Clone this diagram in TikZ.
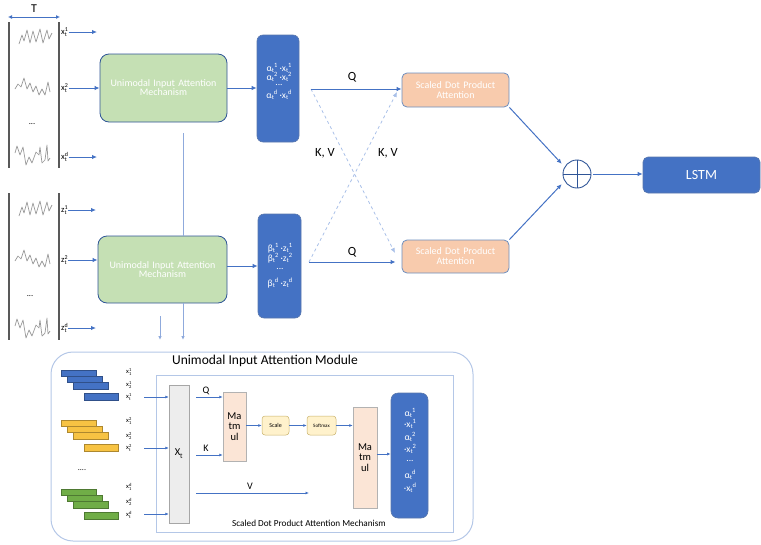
\documentclass[tikz,border=0pt]{standalone}
\usepackage{fontspec}
\usepackage{amsmath}
\setmainfont{Carlito}
\usetikzlibrary{arrows.meta}
\definecolor{myblue}{HTML}{4472C4}
\definecolor{darkblue}{HTML}{2F5597}
\definecolor{greenfill}{HTML}{C5E0B4}
\definecolor{orangefill}{HTML}{F8CBAD}
\definecolor{sdpborder}{HTML}{6C8EBF}
\definecolor{lightline}{HTML}{8FAADC}
\definecolor{dashblue}{HTML}{A9C0E8}
\definecolor{matfill}{HTML}{FBE5D6}
\definecolor{scalefill}{HTML}{FFF2CC}
\definecolor{scaleborder}{HTML}{C9B26B}
\definecolor{modborder}{HTML}{B4C7E7}
\definecolor{barblue}{HTML}{4472C4}
\definecolor{baryellow}{HTML}{F7C343}
\definecolor{bargreen}{HTML}{70AD47}
\newcommand\sv[3]{#1$_{\text{#2}}^{\text{#3}}$}
\newcommand\fs[1]{\fontsize{#1}{#1}\selectfont}
\newcommand\svs[3]{#1\raisebox{-0.35ex}{\fs{6.5}#2}\raisebox{0.8ex}{\fs{6.5}#3}}
\newcommand\sparkA[2]{\begin{scope}[shift={(#1,#2)}]\draw[spark] plot coordinates {(0,17)(3,8)(5,14)(8,3)(11,16)(14,4)(17,15)(21,2)(24,16)(28,3)(30,12)(33,6)};\end{scope}}
\newcommand\sparkB[2]{\begin{scope}[shift={(#1,#2)}]\draw[spark] plot coordinates {(0,12)(3,7)(6,10)(9,1)(12,12)(15,6)(18,15)(21,9)(24,18)(27,12)(30,18)(33,5)(35,15)};\end{scope}}
\newcommand\sparkC[2]{\begin{scope}[shift={(#1,#2)}]\draw[spark] plot coordinates {(0,10)(2,3)(5,12)(8,4)(11,22)(14,14)(17,20)(21,9)(24,12)(25,4)(27,20)(30,17)(32,2)(33,18)(35,15)};\end{scope}}
\begin{document}
\begin{tikzpicture}[x=1pt,y=-1pt,
  spark/.style={draw=black!40, line width=0.7pt, line join=round},
  frame/.style={draw=black!65, line width=1.4pt},
  arr/.style={draw=myblue, line width=1pt, -{Latex[length=5pt,width=4.5pt]}},
  sarr/.style={draw=myblue, line width=0.7pt, -{Latex[length=3.5pt,width=3pt]}},
  larr/.style={draw=lightline, line width=0.8pt},
  dsh/.style={draw=dashblue, line width=0.8pt, dashed, -{Latex[length=5pt,width=4.5pt]}},
  lbl/.style={inner sep=0pt, font=\fs{12.5}},
  sub/.style={inner sep=0pt, font=\fs{8.5}},
  tiny/.style={inner sep=0pt, font=\fs{6.5}},
  wtxt/.style={inner sep=0pt, text=white, font=\fs{9.5}},
  greenbox/.style={draw=darkblue, fill=greenfill, rounded corners=9pt, line width=0.8pt, text=white, align=center, font=\fs{10}, inner sep=0pt},
  bluebox/.style={draw=darkblue!80, fill=myblue, rounded corners=6pt, line width=0.6pt, text=white, inner sep=0pt},
  sdpbox/.style={draw=sdpborder, fill=orangefill, rounded corners=5pt, line width=0.8pt, text=white, align=center, font=\fs{10}, inner sep=0pt},
  matbox/.style={draw=black!30, fill=matfill, line width=0.5pt, align=center, font=\fs{10.5}, inner sep=0pt},
  scalebox/.style={draw=scaleborder, fill=scalefill, rounded corners=3pt, line width=0.5pt, inner sep=0pt},
  bar/.style={line width=0.5pt}
]
\useasboundingbox (0,0) rectangle (761,544);

% ---------- top-left input panel
\node[inner sep=0pt, font=\fs{12}] (T) at (34,9) {T};
\coordinate (ta) at (8,17); \coordinate (tb) at (60,17);
\draw[draw=myblue, line width=1pt, {Latex[length=4pt,width=4pt]}-{Latex[length=4pt,width=4pt]}] (ta) -- (tb);
\coordinate (f1a) at (9,22); \coordinate (f1b) at (9,168);
\coordinate (f2a) at (59,22); \coordinate (f2b) at (59,168);
\draw[frame] (f1a) -- (f1b); \draw[frame] (f2a) -- (f2b);
\sparkA{19}{27} \sparkB{15}{77} \sparkC{15}{143}
\node[sub] (dots1) at (32,124) {...};
\node[sub,anchor=west] (x1) at (61,32) {\sv{x}{t}{1}};
\node[sub,anchor=west] (x2) at (61,88) {\sv{x}{t}{2}};
\node[sub,anchor=west] (xd) at (61,157) {\sv{x}{t}{d}};

% ---------- lower-left input panel
\coordinate (f3a) at (9,193); \coordinate (f3b) at (9,340);
\coordinate (f4a) at (59,193); \coordinate (f4b) at (59,340);
\draw[frame] (f3a) -- (f3b); \draw[frame] (f4a) -- (f4b);
\sparkA{19}{199} \sparkB{15}{249} \sparkC{15}{316}
\node[sub] (dots2) at (30,296) {...};
\node[sub,anchor=west] (z1) at (61,210) {\sv{z}{t}{1}};
\node[sub,anchor=west] (z2) at (61,260) {\sv{z}{t}{2}};
\node[sub,anchor=west] (zd) at (61,328) {\sv{z}{t}{d}};

% ---------- main boxes
\node[greenbox, minimum width=127pt, minimum height=68pt, text width=124pt] (g1) at (163.5,88) {Unimodal Input Attention\\[-1pt]Mechanism};
\node[greenbox, minimum width=129pt, minimum height=67pt, text width=124pt] (g2) at (162.5,269.5) {Unimodal Input Attention\\[-1pt]Mechanism};
\node[bluebox, minimum width=42pt, minimum height=107pt] (al) at (278,88.5) {};
\node[wtxt] (al1) at (279,68) {\svs{α}{t}{1} ·\svs{x}{t}{1}};
\node[wtxt] (al2) at (279,77) {\svs{α}{t}{2} ·\svs{x}{t}{2}};
\node[wtxt] (al3) at (279,85) {...};
\node[wtxt] (al4) at (279,95) {\svs{α}{t}{d} ·\svs{x}{t}{d}};
\node[bluebox, minimum width=43pt, minimum height=104pt] (be) at (279.5,266) {};
\node[wtxt] (be1) at (280,248) {\svs{β}{t}{1} ·\svs{z}{t}{1}};
\node[wtxt] (be2) at (280,258) {\svs{β}{t}{2} ·\svs{z}{t}{2}};
\node[wtxt] (be3) at (280,269) {...};
\node[wtxt] (be4) at (280,283) {\svs{β}{t}{d} ·\svs{z}{t}{d}};
\node[sdpbox, minimum width=107pt, minimum height=34pt, text width=104pt] (s1) at (455.5,90) {Scaled Dot Product\\[0pt]Attention};
\node[sdpbox, minimum width=107pt, minimum height=33pt, text width=104pt] (s2) at (455.5,256.5) {Scaled Dot Product\\[0pt]Attention};
\node[circle, draw=darkblue, line width=0.9pt, minimum size=28pt, inner sep=0pt] (cp) at (577,174) {};
\draw[draw=darkblue, line width=0.9pt] (cp.north) -- (cp.south) (cp.west) -- (cp.east);
\node[bluebox, rounded corners=5pt, minimum width=117pt, minimum height=36pt, font=\fs{14}] (lstm) at (701.5,175) {LSTM};

% ---------- input arrows
\coordinate (e1) at (97,32); \coordinate (ed) at (97,157);
\coordinate (ez1) at (96,210); \coordinate (ezd) at (96,328);
\draw[arr] (x1) -- (e1);
\draw[arr] (x2) -- (x2 -| g1.west);
\draw[arr] (xd) -- (ed);
\draw[arr] (z1) -- (ez1);
\draw[arr] (z2) -- (z2 -| g2.west);
\draw[arr] (zd) -- (ezd);
\draw[arr] (g1.east) -- (g1.east -| al.west);
\draw[arr] (g2.east |- be.west) -- (be.west);

% vertical light lines
\coordinate (v1) at (183,133);
\coordinate (v2) at (183,340);
\coordinate (v3a) at (160,316); \coordinate (v3b) at (160,340);
\draw[larr] (v1) -- (v1 |- g2.north);
\draw[larr, -{Latex[length=4pt,width=3.5pt]}] (v1 |- g2.south) -- (v2);
\draw[larr, -{Latex[length=4pt,width=3.5pt]}] (v3a) -- (v3b);

% Q / KV
\coordinate (qa) at (311,89); \coordinate (qb) at (309,262);
\coordinate (kva) at (395,253); \coordinate (kvb) at (397,92);
\draw[dsh] (qa) -- (kva);
\draw[dsh] (qb) -- (kvb);
\draw[arr] (qa) -- (qa -| s1.west);
\draw[arr] (qb) -- ([xshift=-6pt]qb -| s2.west);
\node[lbl] (q1) at (352,77) {Q};
\node[lbl] (q2) at (352,252) {Q};
\node[lbl] (kv1) at (325,153) {K, V};
\node[lbl] (kv2) at (388,153) {K, V};

% combine
\draw[arr, shorten >=4pt] (s1.south east) -- (cp.150);
\draw[arr, shorten >=4pt] (s2.north east) -- (cp.210);
\draw[arr] (cp.east) ++(2,0) coordinate (cpo) -- (cpo -| lstm.west) ;

% ---------- bottom module
\draw[draw=modborder, line width=1pt, rounded corners=22pt] (51,352) rectangle (473,541);
\node[font=\fs{13.5}, inner sep=0pt] (mtitle) at (265,361) {Unimodal Input Attention Module};
\draw[draw=modborder, line width=0.8pt] (156,375) rectangle (453,532);
\node[font=\fs{9.2}, inner sep=0pt] (mcap) at (309,523) {Scaled Dot Product Attention Mechanism};

% bars
\foreach \yy/\c in {370/barblue, 420/baryellow, 489/bargreen} {
  \draw[bar, draw=\c!70!black, fill=\c] (61,\yy) rectangle (96,\yy+6);
  \draw[bar, draw=\c!70!black, fill=\c] (67,\yy+6) rectangle (102,\yy+12);
  \draw[bar, draw=\c!70!black, fill=\c] (73,\yy+12) rectangle (108,\yy+19);
}
\draw[bar, draw=barblue!70!black, fill=barblue] (84,393) rectangle (118,400);
\draw[bar, draw=baryellow!70!black, fill=baryellow] (84,444) rectangle (118,451);
\draw[bar, draw=bargreen!70!black, fill=bargreen] (84,512) rectangle (118,519);
\node[font=\fs{8}, inner sep=0pt] (dots3) at (82,470) {....};

\node[tiny, anchor=west] (b1) at (126,372) {\sv{x}{1}{1}};
\node[tiny, anchor=west] (b2) at (126,385) {\sv{x}{2}{1}};
\node[tiny, anchor=west] (b3) at (126,397) {\sv{x}{t}{1}};
\node[tiny, anchor=west] (y1) at (126,421) {\sv{x}{1}{2}};
\node[tiny, anchor=west] (y2) at (126,436) {\sv{x}{2}{2}};
\node[tiny, anchor=west] (y3) at (126,448) {\sv{x}{t}{2}};
\node[tiny, anchor=west] (gg1) at (126,487) {\sv{x}{1}{d}};
\node[tiny, anchor=west] (gg2) at (126,502) {\sv{x}{2}{d}};
\node[tiny, anchor=west] (gg3) at (126,515) {\sv{x}{t}{d}};

\node[draw=black!35, fill=black!7, minimum width=20pt, minimum height=138pt, inner sep=0pt, font=\fs{10.5}] (xt) at (179,454) {\sv{X}{t}{}};
\coordinate (ba) at (144,397); \coordinate (ya) at (144,448); \coordinate (ga) at (144,514);
\draw[sarr] (ba) -- (ba -| xt.west);
\draw[sarr] (ya) -- (ya -| xt.west);
\draw[sarr] (ga) -- (ga -| xt.west);

\node[matbox, minimum width=23pt, minimum height=69pt, text width=23pt] (m1) at (234.5,426.5) {Ma\\tm\\ul};
\node[scalebox, minimum width=27pt, minimum height=19pt, font=\fs{6}] (sc) at (275.5,425.5) {Scale};
\node[scalebox, minimum width=29pt, minimum height=19pt, font=\fs{5}] (sm) at (321.5,425.5) {Softmax};
\node[matbox, minimum width=24pt, minimum height=101pt, text width=24pt] (m2) at (365,457.5) {Ma\\tm\\ul};
\node[bluebox, minimum width=37pt, minimum height=125pt, rounded corners=7pt] (ob) at (409.5,455.5) {};
\node[wtxt] (o1) at (410,413) {\svs{α}{t}{1}};
\node[wtxt] (o2) at (410,424) {·\svs{x}{t}{1}};
\node[wtxt] (o3) at (410,437) {\svs{α}{t}{2}};
\node[wtxt] (o4) at (410,449) {·\svs{x}{t}{2}};
\node[wtxt] (o5) at (410,461) {...};
\node[wtxt] (o6) at (410,475) {\svs{α}{t}{d}};
\node[wtxt] (o7) at (410,488) {·\svs{x}{t}{d}};

\coordinate (qs) at (196,397); \coordinate (ks) at (196,455); \coordinate (vs) at (196,493); \coordinate (ve) at (309,493);
\draw[sarr] (qs) -- (qs -| m1.west);
\draw[sarr] (ks) -- (ks -| m1.west);
\draw[sarr] (vs) -- (ve);
\node[font=\fs{10}, inner sep=0pt] (ql) at (206,391) {Q};
\node[font=\fs{10}, inner sep=0pt] (kl) at (206,448) {K};
\node[font=\fs{10}, inner sep=0pt] (vl) at (250,486) {V};
\draw[sarr] (m1.east |- sc.west) -- (sc.west);
\draw[sarr] (sc.east) -- (sm.west);
\draw[sarr] (sm.east) -- (sm.east -| m2.west);
\draw[sarr] (m2.east |- 0,454) -- (ob.west |- 0,454);
\end{tikzpicture}
\end{document}
